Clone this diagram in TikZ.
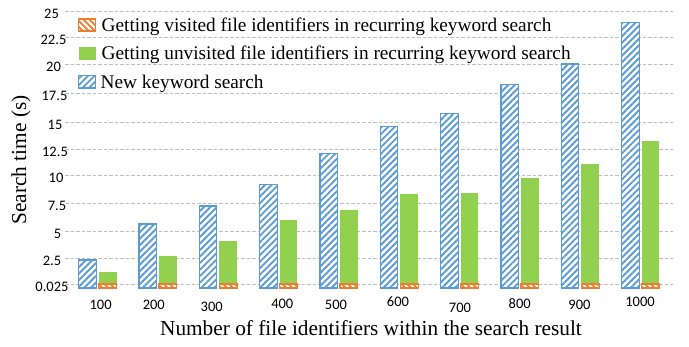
\documentclass[tikz,border=0pt]{standalone}
\usepackage{fontspec}
\setmainfont{Liberation Serif}
\newfontfamily\tickfont{Carlito}
\usetikzlibrary{patterns.meta}

\definecolor{barblue}{HTML}{5B9BD5}
\definecolor{barorange}{HTML}{ED7D31}
\definecolor{bargreen}{HTML}{92D050}
\definecolor{gridgray}{HTML}{BFBFBF}

\tikzset{
  gridline/.style={draw=gridgray, line width=0.9pt, dash pattern=on 3.5pt off 2pt},
  newbar/.style={draw=barblue, line width=1.2pt, preaction={fill=white},
    pattern={Lines[angle=45,distance=4.6pt,line width=1.9pt]}, pattern color=barblue},
  unvisitedbar/.style={fill=bargreen, draw=none},
  visitedbar/.style={draw=barorange, line width=1.1pt, preaction={fill=white},
    pattern={Lines[angle=-45,distance=4.2pt,line width=1.8pt]}, pattern color=barorange},
  ytick/.style={font=\tickfont\fontsize{14.5}{16}\selectfont, inner sep=0pt},
  xtick/.style={font=\tickfont\fontsize{14.5}{16}\selectfont, inner sep=0pt},
  legendtext/.style={font=\fontsize{19.3}{22}\selectfont, anchor=base west, inner sep=0pt},
  axistitle/.style={font=\fontsize{21.3}{24}\selectfont, inner sep=0pt},
}

\begin{document}
\begin{tikzpicture}[x=1pt,y=-1pt]
\useasboundingbox (0,0) rectangle (689,346);

% horizontal grid
\foreach \gy in {11.5,37,64,93,122,149,175.5,203,231,258,284}
  \draw[gridline] (65,\gy) -- (673,\gy);

% y tick labels
\foreach \tx/\ty/\tl in {51.5/13.5/25, 53.5/39.5/22.5, 53.5/66.5/20, 54.5/95.5/17.5,
    55/124.5/15, 55/151.5/12.5, 56/178/10, 57/205.5/7.5, 57.5/233.5/5,
    52/260.5/2.5, 52/287/0.025}
  \node[ytick] (yl\tl) at (\tx,\ty) {\tl};

% bars: group label / blue top / green top / label x / label y
\foreach \g/\bt/\gt/\lx/\ly [count=\i from 0] in {
    100/260/272/100.6/305, 200/224/256/153.8/305, 300/206/240.7/211.7/307,
    400/184.3/220/282.3/304, 500/153.3/210/336/305, 600/126.3/194/398/302,
    700/113.3/192.7/460/308, 800/84.3/178/519.7/304, 900/64/164/579.5/305,
    1000/22.3/141/640/302}{
  \pgfmathsetmacro{\L}{78.7+60.33*\i}
  \path[newbar] (\L,288) rectangle ++(17.5,\bt-288);
  \path[unvisitedbar] (\L+20,284) rectangle ++(17.8,\gt-284);
  \path[visitedbar] (\L+20,288) rectangle ++(17.8,-4);
  \node[xtick] (xl\g) at (\lx,\ly) {\g};
}

% legend
\path[visitedbar] (78.7,19) rectangle (95.7,31);
\node[legendtext] (leg1) at (101.5,31.5) {Getting visited file identifiers in recurring keyword search};
\path[unvisitedbar] (78.7,47) rectangle (96.2,59.5);
\node[legendtext] (leg2) at (101.5,59.5) {Getting unvisited file identifiers in recurring keyword search};
\path[newbar] (78.7,75.5) rectangle (95.7,88);
\node[legendtext] (leg3) at (100.5,88) {New keyword search};

% axis titles
\node[axistitle] (xtitle) at (371,328) {Number of file identifiers within the search result};
\node[axistitle, rotate=90] (ytitle) at (21,160) {Search time (s)};
\end{tikzpicture}
\end{document}
